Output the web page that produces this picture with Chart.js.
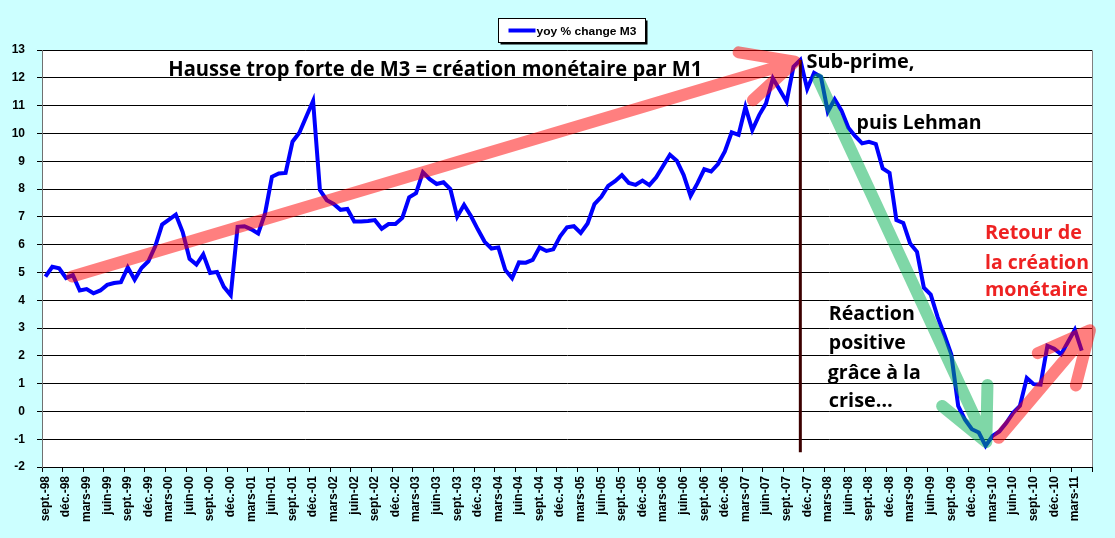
<!DOCTYPE html>
<html>
<head>
<meta charset="utf-8">
<script src="https://cdn.jsdelivr.net/npm/chart.js@4.4.1/dist/chart.umd.min.js"></script>
<style>
  html, body { margin: 0; padding: 0; background: #ccffff; }
  #wrap { width: 1115px; height: 538px; }
</style>
</head>
<body>
<div id="wrap"><canvas id="m3" width="1115" height="538"></canvas></div>
<script>
// categories : mois de sept.-98 a mai-11
const monthNames = ['janv.', 'févr.', 'mars', 'avr.', 'mai', 'juin', 'juil.', 'août', 'sept.', 'oct.', 'nov.', 'déc.'];
const firstMonth = 8;      // sept.
const firstYear = 1998;
const nbMonths = 153;
const labelEvery = 3;

const months = [];
for (let k = 0; k < nbMonths; k++) {
  const m = (firstMonth + k) % 12;
  const yr = firstYear + Math.floor((firstMonth + k) / 12);
  months.push(monthNames[m] + '-' + String(yr % 100).padStart(2, '0'));
}

// yoy % change M3
const m3yoy = [
  4.85, 5.2, 5.15, 4.8,
  4.9, 4.35, 4.4, 4.25, 4.35, 4.55, 4.62, 4.65, 5.18, 4.74, 5.16, 5.4,
  5.94, 6.72, 6.9, 7.08, 6.45, 5.49, 5.28, 5.65, 4.98, 5.02, 4.48, 4.18,
  6.64, 6.66, 6.55, 6.4, 7.12, 8.44, 8.56, 8.58, 9.7, 10.02, 10.6, 11.17,
  7.96, 7.6, 7.46, 7.25, 7.28, 6.83, 6.83, 6.85, 6.88, 6.57, 6.74, 6.74,
  6.96, 7.7, 7.85, 8.6, 8.35, 8.18, 8.24, 8.0, 7.0, 7.43, 7.03, 6.55,
  6.1, 5.86, 5.9, 5.09, 4.79, 5.36, 5.35, 5.45, 5.9, 5.77, 5.83, 6.3,
  6.62, 6.66, 6.42, 6.76, 7.46, 7.72, 8.11, 8.28, 8.5, 8.22, 8.15, 8.3,
  8.14, 8.42, 8.83, 9.23, 9.02, 8.5, 7.75, 8.2, 8.71, 8.63, 8.9, 9.35,
  10.04, 9.95, 10.95, 10.12, 10.66, 11.08, 11.98, 11.56, 11.14, 12.4, 12.64, 11.6,
  12.18, 12.04, 10.78, 11.23, 10.82, 10.2, 9.9, 9.64, 9.7, 9.62, 8.74, 8.58,
  6.88, 6.78, 6.04, 5.74, 4.45, 4.2, 3.4, 2.75, 2.05, 0.2, -0.3, -0.64,
  -0.76, -1.24, -0.88, -0.72, -0.42, -0.05, 0.2, 1.2, 0.98, 0.96, 2.36, 2.25,
  2.06, 2.5, 2.94, 2.19
];
const seriesName = 'yoy % change M3';
const yMin = -2;
const yMax = 13;

// annotations, en coordonnees du graphique (index du mois, valeur)
const arrows = [
  { from: [3.9, 4.85], to: [109.2, 12.58], color: 'rgba(255,0,0,0.5)' },
  { from: [112.6, 11.95], to: [137.1, -1.1], color: 'rgba(0,176,80,0.5)' },
  { from: [138.9, -0.95], to: [152.2, 2.92], color: 'rgba(255,0,0,0.5)' }
];
const crisisLine = { at: 110, top: 12.64, bottom: -1.47 };
const notes = [
  { text: 'Hausse trop forte de M3 = création monétaire par M1', x: 17.9, y: 12.06, size: 21, w: 534, color: '#000' },
  { text: 'Sub-prime,', x: 110.9, y: 12.36, size: 20, w: 108, color: '#000' },
  { text: 'puis Lehman', x: 118.2, y: 10.15, size: 19, w: 125, color: '#000' },
  { text: 'Retour de', x: 136.9, y: 6.19, size: 19, w: 97, color: '#ee2222' },
  { text: 'la création', x: 136.9, y: 5.14, size: 19, w: 104, color: '#ee2222' },
  { text: 'monétaire', x: 136.9, y: 4.14, size: 19, w: 103, color: '#ee2222' },
  { text: 'Réaction', x: 114.15, y: 3.28, size: 19, w: 86, color: '#000' },
  { text: 'positive', x: 114.15, y: 2.23, size: 19, w: 77, color: '#000' },
  { text: 'grâce à la', x: 114.0, y: 1.18, size: 19, w: 93, color: '#000' },
  { text: 'crise…', x: 114.15, y: 0.16, size: 19, w: 64, color: '#000' }
];

Chart.defaults.font.family = '"Liberation Sans", Arial, sans-serif';
Chart.defaults.color = '#000';

function fitText(ctx, text, x, y, w) {
  const m = ctx.measureText(text).width;
  ctx.save();
  ctx.translate(x, y);
  ctx.scale(w / m, 1);
  ctx.fillText(text, 0, 0);
  ctx.restore();
}

function drawArrow(ctx, x0, y0, x1, y1, color) {
  const ang = Math.atan2(y1 - y0, x1 - x0);
  const headLen = 57;
  const spread = 26 * Math.PI / 180;
  ctx.save();
  ctx.strokeStyle = color;
  ctx.lineWidth = 12;
  ctx.lineCap = 'round';
  ctx.lineJoin = 'round';
  ctx.beginPath();
  ctx.moveTo(x0, y0);
  ctx.lineTo(x1, y1);
  ctx.moveTo(x1 - headLen * Math.cos(ang - spread), y1 - headLen * Math.sin(ang - spread));
  ctx.lineTo(x1, y1);
  ctx.lineTo(x1 - headLen * Math.cos(ang + spread), y1 - headLen * Math.sin(ang + spread));
  ctx.stroke();
  ctx.restore();
}

const decor = {
  id: 'decor',
  beforeDraw(chart) {
    const { ctx, chartArea: a } = chart;
    ctx.save();
    ctx.fillStyle = '#ffffff';
    ctx.fillRect(a.left, a.top, a.right - a.left, a.bottom - a.top);
    ctx.strokeStyle = '#808080';
    ctx.lineWidth = 1;
    ctx.beginPath();
    ctx.moveTo(a.left, a.top + 0.5);
    ctx.lineTo(a.right + 0.5, a.top + 0.5);
    ctx.lineTo(a.right + 0.5, a.bottom);
    ctx.stroke();
    ctx.restore();
  },
  afterDatasetsDraw(chart) {
    const { ctx, scales: { x, y } } = chart;

    // trait vertical de la crise
    const cx = x.getPixelForValue(crisisLine.at);
    ctx.save();
    ctx.strokeStyle = '#3c0000';
    ctx.lineWidth = 3;
    ctx.beginPath();
    ctx.moveTo(cx, y.getPixelForValue(crisisLine.top));
    ctx.lineTo(cx, y.getPixelForValue(crisisLine.bottom));
    ctx.stroke();
    ctx.restore();

    arrows.forEach(ar => {
      drawArrow(ctx,
        x.getPixelForValue(ar.from[0]), y.getPixelForValue(ar.from[1]),
        x.getPixelForValue(ar.to[0]), y.getPixelForValue(ar.to[1]),
        ar.color);
    });

    ctx.save();
    ctx.textAlign = 'left';
    ctx.textBaseline = 'alphabetic';
    notes.forEach(n => {
      ctx.font = 'bold ' + n.size + 'px "Open Sans", sans-serif';
      ctx.fillStyle = n.color;
      fitText(ctx, n.text, x.getPixelForValue(n.x), y.getPixelForValue(n.y), n.w);
    });
    ctx.restore();
  },
  afterDraw(chart) {
    // legende dans un cadre avec ombre
    const ctx = chart.ctx;
    const bx = 498.5, by = 18.5, bw = 147, bh = 24;
    ctx.save();
    ctx.fillStyle = '#000';
    ctx.fillRect(bx + 2, by + 2, bw, bh);
    ctx.fillStyle = '#fff';
    ctx.fillRect(bx, by, bw, bh);
    ctx.strokeStyle = '#000';
    ctx.lineWidth = 1;
    ctx.strokeRect(bx, by, bw, bh);
    ctx.strokeStyle = '#0000ff';
    ctx.lineWidth = 4;
    ctx.beginPath();
    ctx.moveTo(bx + 10, by + 12);
    ctx.lineTo(bx + 37, by + 12);
    ctx.stroke();
    ctx.fillStyle = '#000';
    ctx.font = 'bold 11px "Liberation Sans", Arial, sans-serif';
    ctx.textBaseline = 'alphabetic';
    fitText(ctx, seriesName, bx + 38, by + 16, 100);
    ctx.restore();
  }
};

new Chart(document.getElementById('m3'), {
  type: 'line',
  data: {
    labels: months,
    datasets: [{
      label: seriesName,
      data: m3yoy,
      borderColor: '#0000ff',
      borderWidth: 4,
      pointRadius: 0,
      tension: 0,
      fill: false
    }]
  },
  options: {
    responsive: false,
    animation: false,
    layout: { padding: { top: 50, right: 23, left: 0, bottom: 0 } },
    plugins: {
      legend: { display: false },
      tooltip: { enabled: false }
    },
    scales: {
      x: {
        offset: true,
        grid: {
          offset: true,
          drawOnChartArea: false,
          drawTicks: true,
          tickLength: 5,
          color: c => (c.index === undefined || c.index % labelEvery === 0) ? '#000' : 'rgba(0,0,0,0)'
        },
        border: { color: '#000', width: 1 },
        ticks: {
          autoSkip: false,
          minRotation: 90,
          maxRotation: 90,
          padding: 4,
          font: { size: 12, weight: 'bold' },
          callback: (v, i) => i % labelEvery === 0 ? months[i] : ''
        },
        afterFit: s => { s.height = 71; }
      },
      y: {
        min: yMin,
        max: yMax,
        grid: { color: '#000', lineWidth: 1, tickLength: 5 },
        border: { color: '#707070', width: 1 },
        ticks: {
          stepSize: 1,
          padding: 12,
          font: { size: 12, weight: 'bold' }
        },
        afterFit: s => { s.width = 42; }
      }
    }
  },
  plugins: [decor]
});
</script>
</body>
</html>
